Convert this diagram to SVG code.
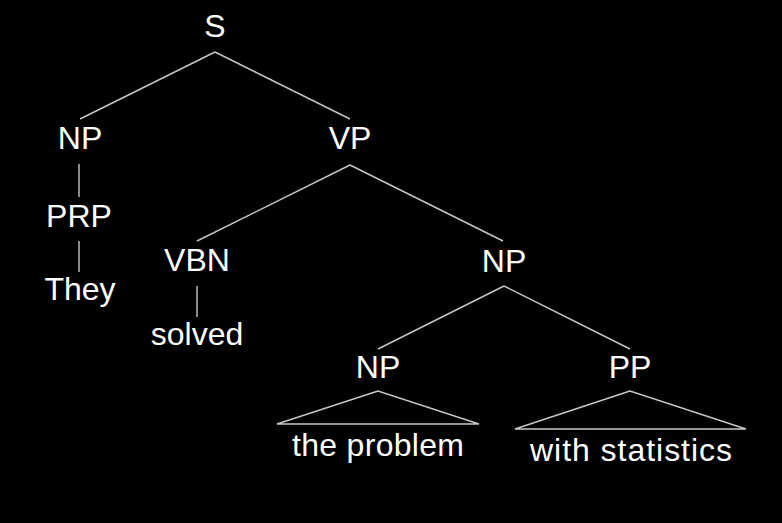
<svg xmlns="http://www.w3.org/2000/svg" width="782" height="523" viewBox="0 0 782 523">
<style>
text{font-family:"Liberation Sans",Arial,sans-serif;font-size:32px;fill:#ffffff;text-anchor:middle}
line,polygon{stroke:#c8c8c8;stroke-width:1.4;fill:none}
</style>
<rect width="782" height="523" fill="#000000"/>
<g id="connectors">
<line x1="215" y1="52" x2="80" y2="119"/>
<line x1="215" y1="52" x2="350" y2="119"/>
<line x1="79" y1="164" x2="79" y2="197"/>
<line x1="79" y1="241" x2="79" y2="272"/>
<line x1="350" y1="165" x2="197" y2="241"/>
<line x1="350" y1="165" x2="503" y2="241"/>
<line x1="197" y1="286" x2="197" y2="317"/>
<line x1="504" y1="286" x2="378" y2="349"/>
<line x1="504" y1="286" x2="630" y2="349"/>
<polygon points="378,391 277,424 479,424"/>
<polygon points="630,391 515,429 746,429"/>
</g>
<g id="S"><text x="215" y="37">S</text></g>
<g id="NP1"><text x="80" y="149">NP</text></g>
<g id="VP"><text x="350" y="149">VP</text></g>
<g id="PRP"><text x="79" y="227">PRP</text></g>
<g id="They"><text x="80" y="300">They</text></g>
<g id="VBN"><text x="197" y="271">VBN</text></g>
<g id="solved"><text x="197" y="345">solved</text></g>
<g id="NP2"><text x="504" y="272">NP</text></g>
<g id="NP3"><text x="378" y="378">NP</text></g>
<g id="PP"><text x="630" y="378">PP</text></g>
<g id="the_problem"><text x="378" y="456" textLength="172" lengthAdjust="spacing">the problem</text></g>
<g id="with_statistics"><text x="631" y="461" textLength="202" lengthAdjust="spacing">with statistics</text></g>
</svg>
